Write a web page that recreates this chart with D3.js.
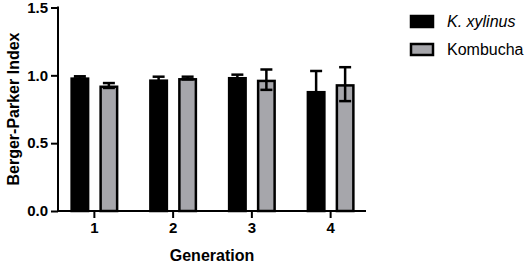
<!DOCTYPE html>
<html>
<head>
<meta charset="utf-8">
<script src="https://cdn.jsdelivr.net/npm/d3@7"></script>
<style>
  body { margin: 0; background: #fff; }
  svg { font-family: "Liberation Sans", Arial, sans-serif; }
</style>
</head>
<body>
<svg id="chart" width="526" height="265"></svg>
<script>
// data
const generations = ["1", "2", "3", "4"];
const seriesNames = ["K. xylinus", "Kombucha"];
const xylinusMean = [0.985, 0.97, 0.988, 0.885];
const xylinusErr = [0.008, 0.02, 0.017, 0.147];
const kombuchaMean = [0.925, 0.98, 0.968, 0.935];
const kombuchaErr = [0.018, 0.01, 0.075, 0.125];
const yTicks = [0, 0.5, 1.0, 1.5];

const colors = {"K. xylinus": "#000000", "Kombucha": "#a6a6ab"};

const rows = [];
generations.forEach((g, i) => {
  rows.push({gen: g, key: seriesNames[0], mean: xylinusMean[i], err: xylinusErr[i]});
  rows.push({gen: g, key: seriesNames[1], mean: kombuchaMean[i], err: kombuchaErr[i]});
});

const svg = d3.select("#chart");

const yScale = d3.scaleLinear([0, 1.5], [211, 7.5]);
const xScale = d3.scaleBand(generations, [55, 370]);
const xSub = d3.scaleBand(seriesNames, [-24, 24]).paddingInner(0.345);

const sw = 2.5;

// bars
svg.append("g").selectAll("rect")
  .data(rows)
  .join("rect")
  .attr("x", d => xScale(d.gen) + xScale.bandwidth() / 2 + xSub(d.key) + sw / 2)
  .attr("width", xSub.bandwidth() - sw)
  .attr("y", d => yScale(d.mean) + sw / 2)
  .attr("height", d => yScale(0) - yScale(d.mean) - sw / 2)
  .attr("fill", d => colors[d.key])
  .attr("stroke", "#000")
  .attr("stroke-width", sw);

// error bars
const eb = svg.append("g").attr("stroke", "#000").attr("stroke-width", sw);
rows.forEach(d => {
  const cx = xScale(d.gen) + xScale.bandwidth() / 2 + xSub(d.key) + xSub.bandwidth() / 2;
  const yHi = yScale(d.mean + d.err), yLo = yScale(d.mean - d.err);
  eb.append("line").attr("x1", cx).attr("x2", cx).attr("y1", yHi).attr("y2", yLo);
  eb.append("line").attr("x1", cx - 6).attr("x2", cx + 6).attr("y1", yHi).attr("y2", yHi);
  eb.append("line").attr("x1", cx - 6).attr("x2", cx + 6).attr("y1", yLo).attr("y2", yLo);
});

// axes
const yAxis = d3.axisLeft(yScale).tickValues(yTicks).tickFormat(d3.format(".1f")).tickSizeOuter(0).tickSize(7).tickPadding(3);
const gy = svg.append("g").attr("transform", "translate(58,0)").call(yAxis);
gy.select(".domain").attr("stroke-width", 2).attr("d", "M0,6.5V211");

const xAxis = d3.axisBottom(xScale).tickSizeOuter(0).tickSize(7).tickPadding(4);
const gx = svg.append("g").attr("transform", "translate(0,211)").call(xAxis);
gx.select(".domain").attr("stroke-width", 2).attr("d", "M57,0H366");

svg.selectAll(".tick line").attr("stroke-width", 2);
svg.selectAll(".tick text").attr("font-size", 15).attr("font-weight", "bold")
  .attr("font-family", "Liberation Sans, Arial, sans-serif").attr("fill", "#000");

// axis titles
svg.append("text")
  .attr("x", 212).attr("y", 261)
  .attr("text-anchor", "middle")
  .attr("font-size", 16).attr("font-weight", "bold")
  .text("Generation");

svg.append("text")
  .attr("transform", "translate(19,109) rotate(-90)")
  .attr("text-anchor", "middle")
  .attr("font-size", 16).attr("font-weight", "bold")
  .text("Berger-Parker Index");

// legend
const legend = svg.append("g").selectAll("g")
  .data(seriesNames)
  .join("g")
  .attr("transform", (d, i) => `translate(411,${16 + i * 28})`);
legend.append("rect")
  .attr("width", 22).attr("height", 11)
  .attr("fill", d => colors[d])
  .attr("stroke", "#000").attr("stroke-width", sw);
legend.append("text")
  .attr("x", 36).attr("y", 11)
  .attr("font-size", 16)
  .attr("font-style", d => d === "K. xylinus" ? "italic" : "normal")
  .text(d => d);
</script>
</body>
</html>
